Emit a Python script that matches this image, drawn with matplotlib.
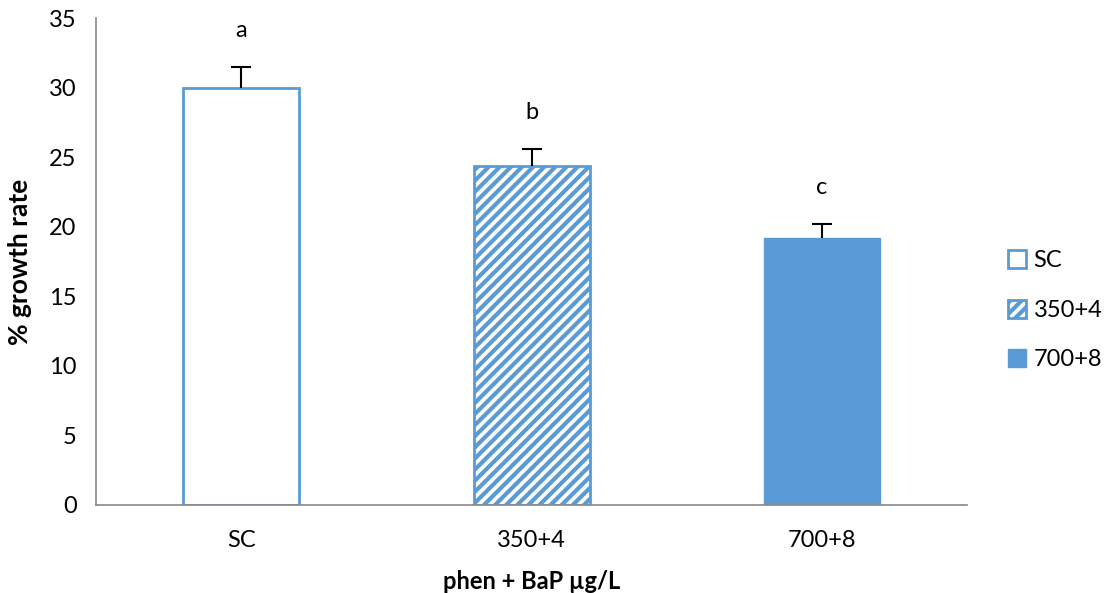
import matplotlib
matplotlib.use("Agg")
from matplotlib import pyplot as plt
from matplotlib.patches import Patch

categories = ['SC', '350+4', '700+8']
growth_rate = [30.0, 24.4, 19.2]
errors = [1.5, 1.2, 1.0]
letters = ['a', 'b', 'c']

BLUE = '#5B9BD5'
plt.rcParams['font.family'] = ['Lato', 'DejaVu Sans']
plt.rcParams['hatch.color'] = BLUE
plt.rcParams['hatch.linewidth'] = 3.0


def main():
    figure = plt.figure(figsize=(11.04, 5.93), dpi=100)
    axis = figure.add_axes([0.087, 0.1484, 0.789, 0.8212])

    x = range(len(categories))
    styles = [
        dict(facecolor='white', edgecolor=BLUE, linewidth=2),
        dict(facecolor='white', edgecolor=BLUE, linewidth=2, hatch='///'),
        dict(facecolor=BLUE, edgecolor=BLUE, linewidth=1),
    ]
    handles = []
    for i in x:
        axis.bar(i, growth_rate[i], width=0.4, **styles[i])
        _, caps, _ = axis.errorbar(i, growth_rate[i], yerr=[[0], [errors[i]]], color='black',
                                   capsize=7, elinewidth=1.5, capthick=1.5)
        caps[0].set_visible(False)  # only the upper cap
        axis.text(i, growth_rate[i] + errors[i] + 2.6, letters[i], ha='center',
                  va='center', fontsize=17)
        handles.append(Patch(label=categories[i], **styles[i]))

    axis.set_xlim(-0.5, 2.5)
    axis.set_ylim(0, 35)
    axis.set_yticks(range(0, 36, 5))
    axis.set_xticks(list(x))
    axis.set_xticklabels(categories)
    axis.tick_params(length=0, labelsize=17, pad=14)
    axis.tick_params(axis='x', pad=18)

    for side in ['top', 'right']:
        axis.spines[side].set_visible(False)
    for side in ['left', 'bottom']:
        axis.spines[side].set_color('#898989')
        axis.spines[side].set_linewidth(1.2)

    axis.set_xlabel('phen + BaP µg/L', fontsize=17, fontweight='bold', labelpad=14)
    axis.set_ylabel('% growth rate', fontsize=19, fontweight='bold', labelpad=12)

    axis.legend(handles=handles, loc='center left', bbox_to_anchor=(1.022, 0.40),
                frameon=False, fontsize=17, handlelength=0.8, handleheight=0.8,
                handletextpad=0.3, labelspacing=1.2)

    figure.savefig('out.png', dpi=100)


if __name__ == "__main__":
    main()
